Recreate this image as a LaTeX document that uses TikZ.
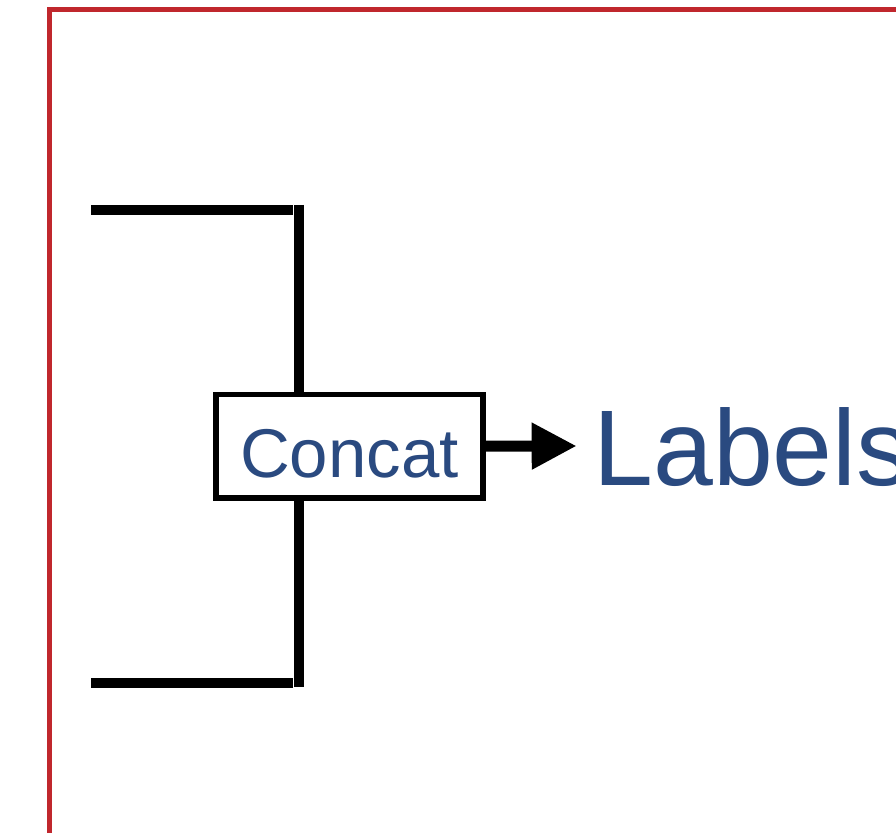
\documentclass[tikz,border=0pt]{standalone}
\usepackage{fontspec}
\setmainfont{Liberation Sans}
\usetikzlibrary{arrows.meta}
\definecolor{frame}{RGB}{192,39,45}
\definecolor{txtblue}{RGB}{42,74,128}
\begin{document}
\begin{tikzpicture}[x=0.5pt,y=-0.5pt,
  thick line/.style={line width=5pt,black},
  concatbox/.style={draw=black,line width=2.75pt,fill=white,minimum width=133.6pt,minimum height=51.75pt,inner sep=0pt,text height=31.75pt,text depth=0pt,text=txtblue,font=\fontsize{34.5pt}{40pt}\selectfont},
  labeltext/.style={inner sep=0pt,text=txtblue,font=\fontsize{53.8pt}{60pt}\selectfont}]
\useasboundingbox (0,0) rectangle (896,833);
\clip (0,0) rectangle (896,833);
\fill[white] (0,0) rectangle (896,833);
\draw[frame,line width=2.5pt] (49.3,10) rectangle (1000,1000);
\coordinate (t1) at (91,210);
\coordinate (t2) at (293,210);
\coordinate (b1) at (91,683);
\coordinate (b2) at (293,683);
\coordinate (vt) at (298.7,205);
\coordinate (vb) at (298.7,687.3);
\node[concatbox] (concat) at (349.4,446.25) {Concat};
\node[labeltext,anchor=base west] (labels) at (593,486) {Labels};
\coordinate (tip) at (576.7,446);
\draw[thick line] (t1) -- (t2);
\draw[thick line] (b1) -- (b2);
\draw[thick line] (vt) -- (concat.north -| vt);
\draw[thick line] (concat.south -| vt) -- (vb);
\draw[line width=5.5pt,-{Triangle[length=22.5pt,width=22pt]}] (concat.east) -- (tip);
\end{tikzpicture}
\end{document}
